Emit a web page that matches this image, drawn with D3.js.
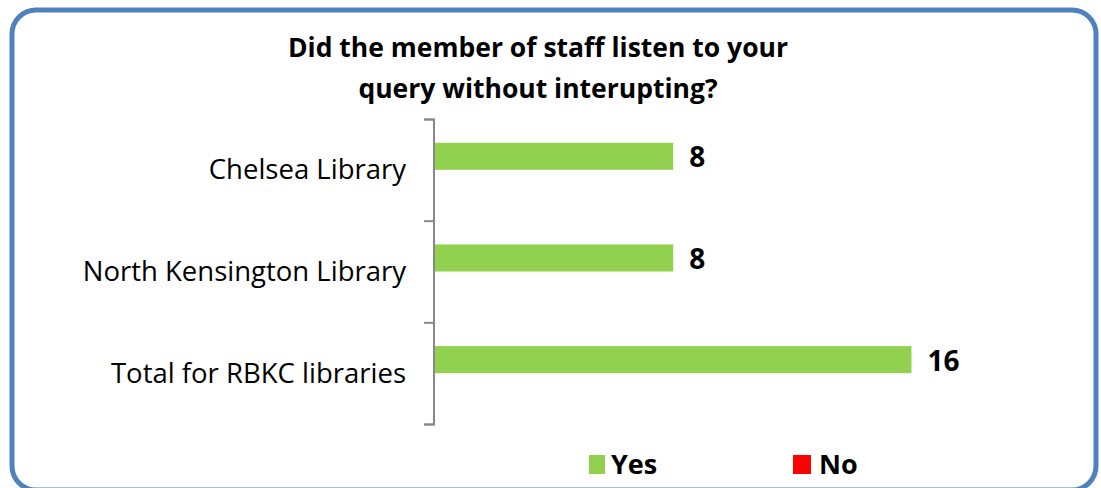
<!DOCTYPE html>
<html><head><meta charset="utf-8">
<script src="https://cdn.jsdelivr.net/npm/d3@7"></script>
<style>
html,body{margin:0;padding:0;background:#fff;}
svg{display:block;font-family:"Open Sans",sans-serif;}
</style></head>
<body>
<svg id="chart" width="1101" height="488"></svg>
<script>
const titleLines = ["Did the member of staff listen to your", "query without interupting?"];
const categories = ["Chelsea Library", "North Kensington Library", "Total for RBKC libraries"];
const seriesNames = ["Yes", "No"];
const yesValues = [8, 8, 16];
const noValues = [0, 0, 0];
const colors = ["#92D050", "#FF0000"];

const svg = d3.select("#chart");
const FONT = "'Open Sans',sans-serif";

// rounded border
svg.append("rect").attr("x", 12).attr("y", 10).attr("width", 1084).attr("height", 480)
  .attr("rx", 24).attr("ry", 24).attr("fill", "#fff")
  .attr("stroke", "#4F81BD").attr("stroke-width", 5);

// title
svg.append("g").selectAll("text").data(titleLines).join("text")
  .attr("x", 538).attr("y", (d, i) => 57 + i * 41)
  .attr("text-anchor", "middle").attr("font-weight", "bold").attr("font-size", 26.5)
  .attr("fill", "#000").text(d => d);

const x = d3.scaleLinear().domain([0, 18]).range([435, 971]);
const y = d3.scaleBand().domain(categories).range([119, 424]).paddingInner(0).paddingOuter(0);
const inner = d3.scaleBand().domain(seriesNames).range([0, y.bandwidth()]).paddingInner(0).paddingOuter(0.88);

const data = categories.map((c, i) => ({cat: c, values: [yesValues[i], noValues[i]]}));

// bars
const groups = svg.append("g").selectAll("g").data(data).join("g")
  .attr("transform", d => `translate(0,${y(d.cat)})`);
groups.selectAll("rect").data(d => d.values.map((v, j) => ({s: seriesNames[j], v, j})))
  .join("rect")
  .attr("x", x(0)).attr("y", d => inner(d.s))
  .attr("width", d => x(d.v) - x(0)).attr("height", inner.bandwidth())
  .attr("fill", d => colors[d.j]);

// labels
groups.selectAll("text.val").data(d => d.values.map((v, j) => ({s: seriesNames[j], v, j})).filter(e => e.v > 0))
  .join("text").attr("class", "val")
  .attr("x", d => x(d.v) + 16).attr("y", d => inner(d.s) + inner.bandwidth() / 2 + 11)
  .attr("font-weight", "bold").attr("font-size", 28).attr("fill", "#000")
  .text(d => d.v);

// y axis
const yAxis = d3.axisLeft(y).tickSize(0).tickPadding(28);
const ax = svg.append("g").attr("transform", "translate(434,0)").call(yAxis);
ax.select(".domain").attr("stroke", "#888").attr("stroke-width", 2).attr("d", "M-10,119.5H0V424.5H-10");
ax.selectAll(".tick text").attr("font-size", 27.5).attr("fill", "#000").attr("font-family", FONT).attr("dy", "0.35em");
// category boundary ticks
const bounds = categories.map(c => y(c)).concat([y.range()[1]]);
ax.append("g").selectAll("line").data(bounds).join("line")
  .attr("x1", -10).attr("x2", 0).attr("y1", d => d + 0.5).attr("y2", d => d + 0.5)
  .attr("stroke", "#888").attr("stroke-width", 2);

// legend
const legendX = [589, 793];
const lg = svg.append("g").selectAll("g").data(seriesNames).join("g")
  .attr("transform", (d, i) => `translate(${legendX[i]},455)`);
lg.append("rect").attr("width", (d, i) => i === 0 ? 16 : 18).attr("height", 19).attr("fill", (d, i) => colors[i]);
lg.append("text").attr("x", (d, i) => i === 0 ? 22 : 26).attr("y", 19).attr("font-weight", "bold").attr("font-size", 27)
  .attr("fill", "#000").text(d => d);
</script>
</body></html>
